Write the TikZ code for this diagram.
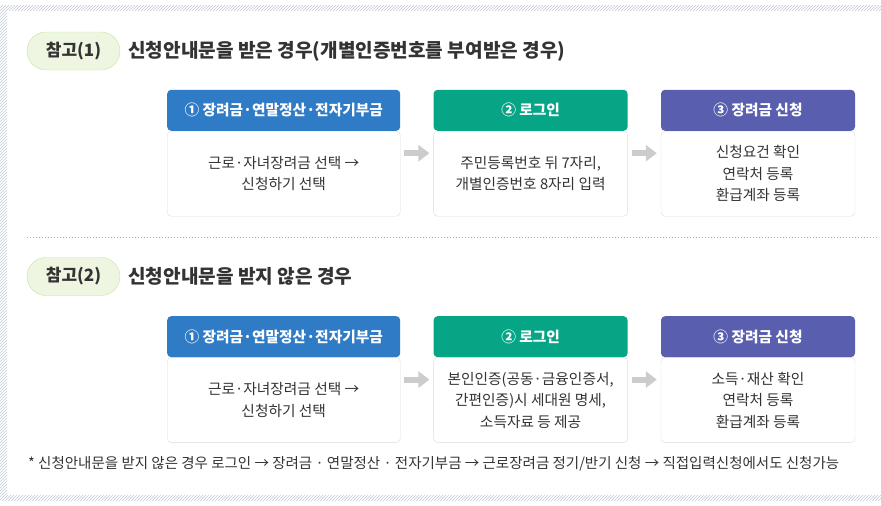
\documentclass[tikz,border=0pt]{standalone}
\usepackage{fontspec}
\setmainfont{Noto Sans CJK KR}
\usepackage{xcolor}
\usetikzlibrary{arrows.meta}
\usetikzlibrary{positioning}
\usetikzlibrary{patterns}

\definecolor{hdblue}{HTML}{2F7BC5}
\definecolor{hdgreen}{HTML}{06A586}
\definecolor{hdpurple}{HTML}{5A5EAF}
\definecolor{txt}{HTML}{333333}
\definecolor{pillfill}{HTML}{EEF6E2}
\definecolor{pillline}{HTML}{C6E49C}
\definecolor{boxline}{HTML}{DCDCDC}
\definecolor{arrowgray}{HTML}{CCCCCC}
\definecolor{hatch}{HTML}{C5C9D6}

\begin{document}
\begin{tikzpicture}[x=1pt,y=-1pt,node distance=33pt]
 \tikzstyle{pill}=[draw=pillline, fill=pillfill, rounded corners=19pt, minimum width=93pt, minimum height=38pt, inner sep=0pt, text=txt, font=\bfseries\fontsize{17}{20}\selectfont]
 \tikzstyle{title}=[inner sep=0pt, anchor=west, text=txt, font=\bfseries\fontsize{19.1}{22}\selectfont]
 \tikzstyle{body}=[draw=boxline, fill=white, rounded corners=4pt, minimum height=85pt, inner sep=0pt, align=center, text=txt, font=\fontsize{14.7}{21.5}\selectfont]
 \tikzstyle{head}=[rounded corners=4pt, minimum height=41pt, inner sep=0pt, text=white, font=\bfseries\fontsize{14.7}{17}\selectfont]
 \tikzstyle{flowarrow}=[draw=arrowgray, line width=6pt, -{Triangle[length=11pt,width=16pt]}, shorten <=4pt, shorten >=4pt]

 \useasboundingbox (0,0) rectangle (881,506);
 % hatched frame
 \fill[pattern=north east lines, pattern color=hatch, even odd rule] (0,5) rectangle (881,501) (7,11) rectangle (881,495);

 % case 1
 \node[pill] (pill1) at (73.5,51) {참고(1)};
 \node[title] (title1) [right=8pt of pill1] {신청안내문을 받은 경우(개별인증번호를 부여받은 경우)};

 \node[body, minimum width=233pt, anchor=north west] (b1) at (167,131) {근로·자녀장려금 선택 →\\신청하기 선택};
 \node[body, minimum width=194pt] (b2) [right=of b1] {주민등록번호 뒤 7자리,\\개별인증번호 8자리 입력};
 \node[body, minimum width=194pt] (b3) [right=of b2] {신청요건 확인\\연락처 등록\\환급계좌 등록};
 \node[head, fill=hdblue, minimum width=233pt] (h1) [above=0pt of b1] {① 장려금·연말정산·전자기부금};
 \node[head, fill=hdgreen, minimum width=194pt] (h2) [above=0pt of b2] {② 로그인};
 \node[head, fill=hdpurple, minimum width=194pt] (h3) [above=0pt of b3] {③ 장려금 신청};

 \draw[flowarrow] ([yshift=20.5pt]b1.east) -- ([yshift=20.5pt]b2.west);
 \draw[flowarrow] ([yshift=20.5pt]b2.east) -- ([yshift=20.5pt]b3.west);

 \draw[color=boxline!80!black, line width=0.8pt, dash pattern=on 1pt off 2pt] (27,237) -- (878,237);

 % case 2
 \node[pill] (pill2) at (73.5,276.5) {참고(2)};
 \node[title] (title2) [right=8pt of pill2] {신청안내문을 받지 않은 경우};

 \node[body, minimum width=233pt] (b4) [below=141pt of b1.south west, anchor=north west] {근로·자녀장려금 선택 →\\신청하기 선택};
 \node[body, minimum width=194pt] (b5) [right=of b4] {본인인증(공동·금융인증서,\\간편인증)시 세대원 명세,\\소득자료 등 제공};
 \node[body, minimum width=194pt] (b6) [right=of b5] {소득·재산 확인\\연락처 등록\\환급계좌 등록};
 \node[head, fill=hdblue, minimum width=233pt] (h4) [above=0pt of b4] {① 장려금·연말정산·전자기부금};
 \node[head, fill=hdgreen, minimum width=194pt] (h5) [above=0pt of b5] {② 로그인};
 \node[head, fill=hdpurple, minimum width=194pt] (h6) [above=0pt of b6] {③ 장려금 신청};

 \draw[flowarrow] ([yshift=20.5pt]b4.east) -- ([yshift=20.5pt]b5.west);
 \draw[flowarrow] ([yshift=20.5pt]b5.east) -- ([yshift=20.5pt]b6.west);

 \node[anchor=west, inner sep=0pt, text=txt, font=\fontsize{14.5}{17}\selectfont] (note) at (28,464) {* 신청안내문을 받지 않은 경우 로그인 → 장려금 · 연말정산 · 전자기부금 → 근로장려금 정기/반기 신청 → 직접입력신청에서도 신청가능};
\end{tikzpicture}
\end{document}
